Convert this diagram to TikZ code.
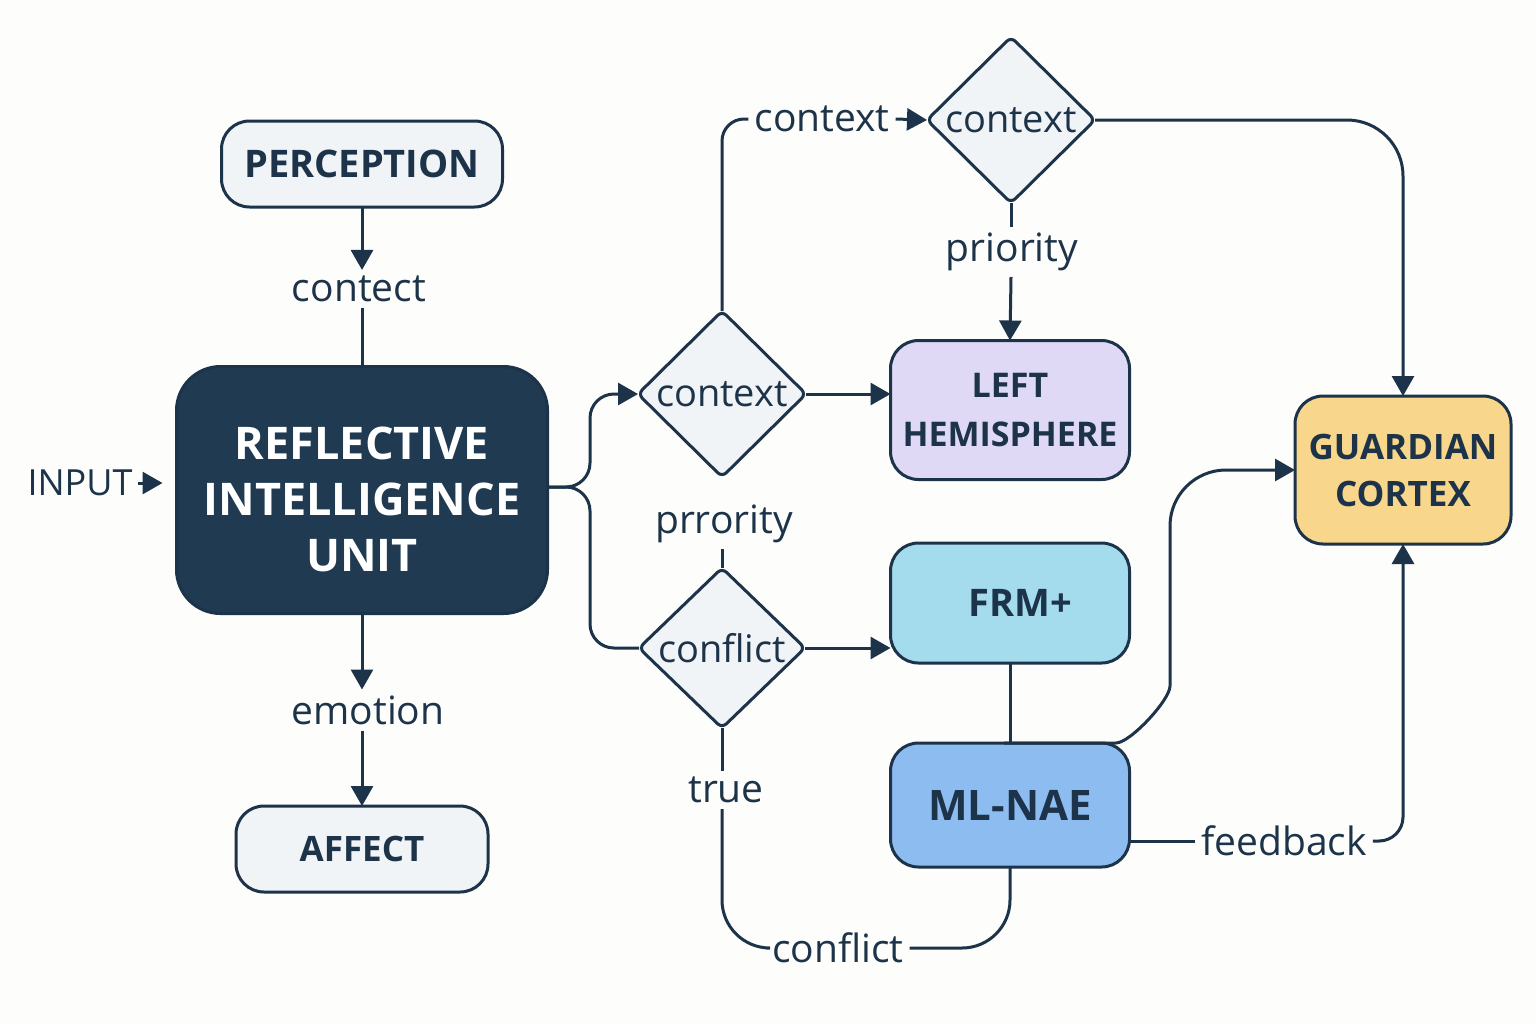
\documentclass[tikz,border=0pt]{standalone}
\usepackage{fontspec}
\setmainfont{Open Sans}
\usetikzlibrary{shapes.geometric,arrows.meta}
\definecolor{ink}{HTML}{1C3349}
\definecolor{navy}{HTML}{1F3A51}
\definecolor{paper}{HTML}{FDFDFB}
\definecolor{pale}{HTML}{F1F4F7}
\definecolor{lilac}{HTML}{E0D9F5}
\definecolor{cyanbox}{HTML}{A4DCEE}
\definecolor{bluebox}{HTML}{8DBDF0}
\definecolor{sand}{HTML}{F8D68B}
\tikzset{
  box/.style={draw=ink, line width=1.5pt, rounded corners=14pt, fill=pale, text=ink,
    align=center, inner sep=0pt, outer sep=0pt, font=\bfseries\fontsize{19}{24}\selectfont},
  decision/.style={diamond, draw=ink, line width=1.5pt, rounded corners=3pt, fill=pale, text=ink,
    inner sep=0pt, outer sep=0pt, minimum width=84pt, minimum height=83pt,
    font=\fontsize{19}{22}\selectfont},
  lbl/.style={text=ink, inner sep=3pt, outer sep=0pt, font=\fontsize{19.5}{22}\selectfont},
  link/.style={draw=ink, line width=1.5pt},
  arr/.style={link, -{Triangle[length=10pt,width=11pt]}}
}
\begin{document}
\begin{tikzpicture}[x=0.5pt,y=-0.5pt]
	\fill[paper] (0,0) rectangle (1536,1024);
	\useasboundingbox (0,0) rectangle (1536,1024);

	% left column
	\node[box, minimum width=140.5pt, minimum height=43pt] at (362,164) (perc) {PERCEPTION};
	\node[box, fill=navy, text=white, rounded corners=22pt, minimum width=185.5pt, minimum height=123.5pt,
	  font=\bfseries\fontsize{22.5}{28}\selectfont] at (362,490) (riu) {\rule{0pt}{26pt}REFLECTIVE\\INTELLIGENCE\\UNIT};
	\node[box, minimum width=126pt, minimum height=43pt, font=\bfseries\fontsize{17.5}{20}\selectfont] at (362,849) (aff) {AFFECT};
	\node[lbl, font=\fontsize{18}{20}\selectfont] at (80,483) (input) {INPUT};
	\node[lbl] at (359,289) (contect) {contect};
	\node[lbl] at (368,710) (emo) {emotion};

	% decisions
	\node[decision] at (722,394) (dctx) {context};
	\node[decision] at (1011,120) (dtop) {context};
	\node[decision, minimum width=83pt, minimum height=80pt] at (722,648) (dconf) {conflict};
	\node[lbl] at (822,119) (ctxlbl) {context};
	\node[lbl] at (1012,252) (prio) {priority};
	\node[lbl] at (724,524) (prrio) {prrority};
	\node[lbl] at (726,790) (truel) {true};
	\node[lbl] at (838,948) (confl) {conflict};
	\node[lbl] at (1284,841) (feedb) {feedback};

	% right column
	\node[box, fill=lilac, minimum width=119.5pt, minimum height=69.5pt, font=\bfseries\fontsize{17}{24.5}\selectfont] at (1010,410) (lefth) {LEFT\\HEMISPHERE};
	\node[box, fill=cyanbox, minimum width=119.5pt, minimum height=60pt] at (1010,603) (frm) {\hspace{10pt}FRM+};
	\node[box, fill=bluebox, minimum width=119.5pt, minimum height=62pt, font=\bfseries\fontsize{21}{24}\selectfont] at (1010,805) (mlnae) {ML-NAE};
	\node[box, fill=sand, minimum width=108pt, minimum height=74pt, font=\bfseries\fontsize{17.5}{23.5}\selectfont] at (1403,470) (guard) {GUARDIAN\\CORTEX};

	\coordinate (fork) at (590,487);
	\coordinate (bend) at (1170,630);

	% connectors
	\draw[arr, shorten >=7pt] (input) -- (riu.west |- input);
	\draw[arr] (perc) -- (perc |- contect.north);
	\draw[link] (riu |- contect.south) -- (riu);
	\draw[arr] (riu) -- (riu |- emo.north);
	\draw[arr] (riu |- emo.south) -- (aff);
	\draw[arr, rounded corners=12pt] (riu.east |- fork) -- (fork) |- (dctx.west);
	\draw[link, rounded corners=12pt] (riu.east |- fork) -- (fork) |- (dconf.west);
	\draw[arr] (dctx.east) -- (dctx.east -| lefth.west);
	\draw[link, rounded corners=11pt] (dctx.north) |- (ctxlbl.west);
	\draw[arr] (ctxlbl.east) -- (dtop.west);
	\draw[arr, rounded corners=28pt] (dtop.east) -| (guard.north);
	\draw[link] (dtop.south) -- (dtop.south |- prio.north);
	\draw[arr] (dtop.south |- prio.south) -- (lefth.north);
	\draw[link] (dconf.north |- prrio.south) -- (dconf.north);
	\draw[arr] (dconf.east) -- (dconf.east -| frm.west);
	\draw[link] (dconf.south) -- (dconf.south |- truel.north);
	\draw[link, rounded corners=24pt] (dconf.south |- truel.south) |- (confl.west);
	\draw[link, rounded corners=24pt] (confl.east) -| (mlnae.south);
	\draw[link] (frm) -- (mlnae);
	\draw[arr, rounded corners=28pt] (mlnae.north) -- ++(50,0) .. controls +(70,0) and (1170,700) .. (bend) |- (guard.west);
	\draw[link] (mlnae.east |- feedb) -- (feedb.west);
	\draw[arr, rounded corners=12pt] (feedb.east) -| (guard.south);
\end{tikzpicture}
\end{document}
